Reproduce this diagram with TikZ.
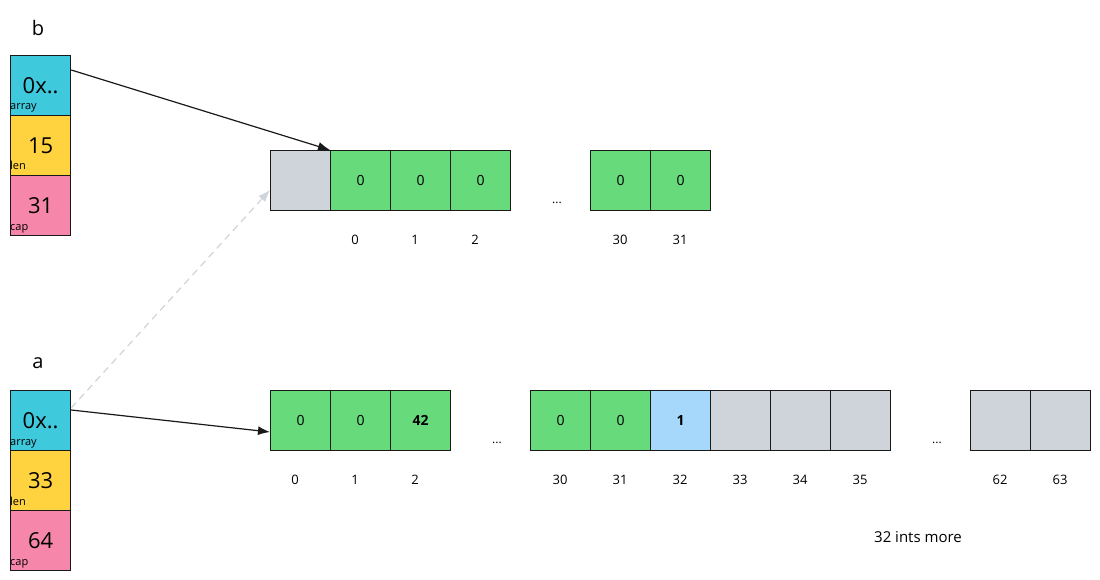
\documentclass[tikz,border=0pt]{standalone}
\usepackage{fontspec}
\setmainfont{Open Sans}
\usetikzlibrary{arrows.meta}
\definecolor{cy}{HTML}{3FC9DD}
\definecolor{ye}{HTML}{FFD23F}
\definecolor{pk}{HTML}{F787AA}
\definecolor{gr}{HTML}{67DB7B}
\definecolor{gy}{HTML}{CFD4DB}
\definecolor{bl}{HTML}{A6D8FC}
\tikzset{
 cell/.style={draw=black!90,line width=1.2pt,minimum width=60pt,minimum height=60pt,inner sep=0,anchor=north west,font=\fontsize{14}{16}\selectfont},
 fld/.style={draw=black!90,line width=1.2pt,minimum width=60pt,minimum height=60pt,inner sep=0,anchor=north west,font=\fontsize{22}{24}\selectfont},
 idx/.style={font=\fontsize{13}{15}\selectfont},
 sub/.style={font=\fontsize{11}{12}\selectfont,anchor=base west,inner sep=0},
 arr/.style={-{Latex[length=12pt,width=9pt]},line width=1.2pt,black!90}
}
\begin{document}
\begin{tikzpicture}[x=1pt,y=-1pt]
\useasboundingbox (0,0) rectangle (1100,580);
\node[font=\fontsize{20}{22}\selectfont] (lb) at (38,28) {b};
\node[fld,fill=cy] (b1) at (10,55) {0x..};
\node[fld,fill=ye] (b2) at (10,115) {15};
\node[fld,fill=pk] (b3) at (10,175) {31};
\node[sub] (b1s) at (10,110) {array};
\node[sub] (b2s) at (10,170) {len};
\node[sub] (b3s) at (10,230) {cap};
\node[font=\fontsize{20}{22}\selectfont] (la) at (38,363) {a};
\node[fld,fill=cy] (a1) at (10,390) {0x..};
\node[fld,fill=ye] (a2) at (10,450) {33};
\node[fld,fill=pk] (a3) at (10,510) {64};
\node[sub] (a1s) at (10,445) {array};
\node[sub] (a2s) at (10,505) {len};
\node[sub] (a3s) at (10,565) {cap};
% top array
\node[cell,fill=gy] (t0) at (270,150) {};
\node[cell,fill=gr] (t1) at (330,150) {0};
\node[cell,fill=gr] (t2) at (390,150) {0};
\node[cell,fill=gr] (t3) at (450,150) {0};
\node[font=\fontsize{12}{12}\selectfont] (td) at (557,203) {...};
\node[cell,fill=gr] (t4) at (590,150) {0};
\node[cell,fill=gr] (t5) at (650,150) {0};
\foreach \x/\t in {355/0,415/1,475/2,620/30,680/31}{\node[idx] (ti\t) at (\x,240) {\t};}
% bottom array
\node[cell,fill=gr] (u0) at (270,390) {0};
\node[cell,fill=gr] (u1) at (330,390) {0};
\node[cell,fill=gr] (u2) at (390,390) {\textbf{42}};
\node[font=\fontsize{12}{12}\selectfont] (ud1) at (497,443) {...};
\node[cell,fill=gr] (u3) at (530,390) {0};
\node[cell,fill=gr] (u4) at (590,390) {0};
\node[cell,fill=bl] (u5) at (650,390) {\textbf{1}};
\node[cell,fill=gy] (u6) at (710,390) {};
\node[cell,fill=gy] (u7) at (770,390) {};
\node[cell,fill=gy] (u8) at (830,390) {};
\node[font=\fontsize{12}{12}\selectfont] (ud2) at (937,443) {...};
\node[cell,fill=gy] (u9) at (970,390) {};
\node[cell,fill=gy] (u10) at (1030,390) {};
\foreach \x/\t in {295/0,355/1,415/2,560/30,620/31,680/32,740/33,800/34,860/35,1000/62,1060/63}{\node[idx] (ui\t) at (\x,480) {\t};}
\node[font=\fontsize{15}{17}\selectfont] (more) at (918,537) {32 ints more};
% arrows
\draw[arr] (b1.east |- 0,70) -- (t1.north west);
\draw[arr] (a1.east |- 0,410) -- (u0.west |- 0,432);
\draw[-{Latex[length=12pt,width=9pt]},dashed,dash pattern=on 7pt off 5pt,line width=1.2pt,gy] (a1.east |- 0,408) -- (t0.west |- 0,190);
\end{tikzpicture}
\end{document}
